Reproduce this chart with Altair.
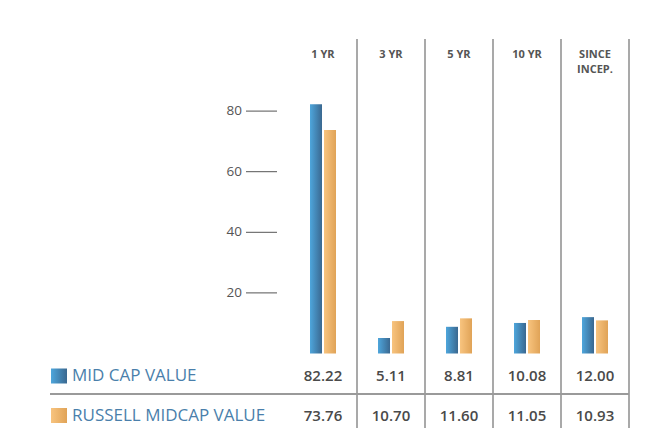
import altair as alt
import pandas as pd

periods = ["1 YR", "3 YR", "5 YR", "10 YR", "SINCE INCEP."]
period_headers = ["1 YR", "3 YR", "5 YR", "10 YR", "SINCE\nINCEP."]
series_names = ["MID CAP VALUE", "RUSSELL MIDCAP VALUE"]
mid_cap_value = [82.22, 5.11, 8.81, 10.08, 12.00]
russell_midcap_value = [73.76, 10.70, 11.60, 11.05, 10.93]
y_ticks = [20, 40, 60, 80]

values_by_series = {series_names[0]: mid_cap_value, series_names[1]: russell_midcap_value}
df = pd.DataFrame([
    {"period": p, "series": s, "value": v}
    for s in series_names for p, v in zip(periods, values_by_series[s])
])
headers = pd.DataFrame({"period": periods, "header": period_headers})
ticks = pd.DataFrame({"tick": y_ticks})

FONT = "Open Sans"
gradients = {
    series_names[0]: alt.Gradient(gradient="linear", x1=0, x2=1, y1=0, y2=0,
                                  stops=[alt.GradientStop(color="#4ea6dc", offset=0),
                                         alt.GradientStop(color="#3a6890", offset=1)]),
    series_names[1]: alt.Gradient(gradient="linear", x1=0, x2=1, y1=0, y2=0,
                                  stops=[alt.GradientStop(color="#f8c47f", offset=0),
                                         alt.GradientStop(color="#e0a357", offset=1)]),
}
row_y = {series_names[0]: 368, series_names[1]: 407.5}

xscale = alt.Scale(domain=periods, range=[281, 621], paddingInner=0, paddingOuter=0)
yscale = alt.Scale(domain=[0, 80], range=[345.5, 103.1], nice=False, zero=True)
xoff_scale = alt.Scale(domain=series_names, range=[21, 47], paddingInner=1 / 7, paddingOuter=0)

layers = []

# column separators
layers.append(
    alt.Chart(headers).mark_rule(color="#8c8c8c", strokeWidth=1.5).encode(
        x=alt.X("period:N", scale=xscale, bandPosition=1, axis=None),
        y=alt.value(31), y2=alt.value(420))
)
# column headers
layers.append(
    alt.Chart(headers).mark_text(font=FONT, fontSize=11, fontWeight="bold", color="#555555",
                                 lineBreak="\n", lineHeight=15, baseline="alphabetic").encode(
        x=alt.X("period:N", scale=xscale, axis=None),
        y=alt.value(49.5), text="header:N")
)
# y ticks
layers.append(
    alt.Chart(ticks).mark_rule(color="#555555", strokeWidth=1).encode(
        x=alt.value(238), x2=alt.value(269),
        y=alt.Y("tick:Q", scale=yscale, axis=None))
)
layers.append(
    alt.Chart(ticks).mark_text(font=FONT, fontSize=13.5, color="#555555", align="right",
                               baseline="middle").encode(
        x=alt.value(234), y=alt.Y("tick:Q", scale=yscale, axis=None), text="tick:Q")
)
# bars
for s in series_names:
    layers.append(
        alt.Chart(df).transform_filter(alt.datum.series == s).mark_bar(color=gradients[s]).encode(
            x=alt.X("period:N", scale=xscale, axis=None),
            xOffset=alt.XOffset("series:N", scale=xoff_scale),
            y=alt.Y("value:Q", scale=yscale, axis=None))
    )
# table separator
layers.append(
    alt.Chart(headers).mark_rule(color="#9a9a9a", strokeWidth=1.5).encode(
        x=alt.value(42), x2=alt.value(621), y=alt.value(386))
)
# rows
for s in series_names:
    layers.append(
        alt.Chart(df).transform_filter(alt.datum.series == s).mark_text(
            font=FONT, fontSize=15, fontWeight=600, color="#4a4a4a", baseline="middle").encode(
            x=alt.X("period:N", scale=xscale, axis=None),
            y=alt.value(row_y[s]),
            text=alt.Text("value:Q", format=".2f"))
    )
    legend_df = pd.DataFrame({"series": [s]})
    layers.append(
        alt.Chart(legend_df).mark_rect(color=gradients[s]).encode(
            x=alt.value(43), x2=alt.value(59),
            y=alt.value(row_y[s] - 7.5), y2=alt.value(row_y[s] + 7.5))
    )
    layers.append(
        alt.Chart(legend_df).mark_text(font=FONT, fontSize=17, color="#4a7fab", align="left",
                                       baseline="middle").encode(
            x=alt.value(64), y=alt.value(row_y[s]), text="series:N")
    )

chart = alt.layer(*layers).properties(
    width=634, height=420, autosize="none", padding=0, background="white"
).configure_view(stroke=None)

chart.save("out.html", embed_options={"renderer": "svg", "actions": False})
